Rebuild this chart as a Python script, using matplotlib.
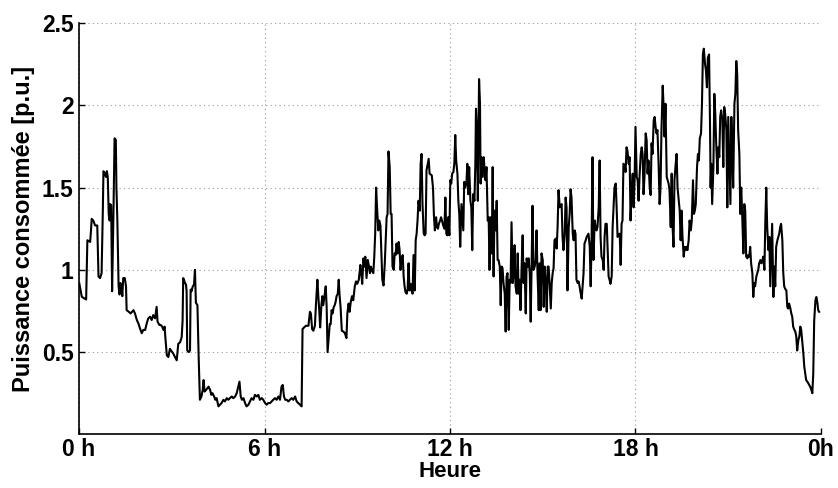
import numpy as np
import matplotlib
matplotlib.use("Agg")
from matplotlib import pyplot as plt

# puissance consommee relevee sur 24 h (heures, p.u.)
heures = [
    0.01, 0.09, 0.23, 0.27, 0.36, 0.38, 0.41, 0.46, 0.52, 0.59, 0.63, 0.68, 0.73, 0.77, 0.79, 0.84,
    0.87, 0.90, 0.93, 0.96, 0.99, 1.01, 1.04, 1.07, 1.11, 1.15, 1.19, 1.21, 1.24, 1.28, 1.31, 1.34,
    1.37, 1.40, 1.43, 1.48, 1.52, 1.54, 1.61, 1.67, 1.76, 1.81, 1.87, 1.92, 1.97, 2.03, 2.08, 2.14,
    2.19, 2.24, 2.30, 2.35, 2.40, 2.46, 2.51, 2.54, 2.60, 2.64, 2.69, 2.73, 2.77, 2.79, 2.84, 2.89,
    2.94, 3.05, 3.16, 3.21, 3.27, 3.32, 3.35, 3.37, 3.43, 3.46, 3.48, 3.50, 3.55, 3.59, 3.61, 3.64,
    3.68, 3.72, 3.75, 3.78, 3.83, 3.87, 3.91, 3.96, 4.00, 4.03, 4.06, 4.11, 4.15, 4.19, 4.24, 4.28,
    4.32, 4.37, 4.41, 4.45, 4.51, 4.56, 4.61, 4.67, 4.72, 4.78, 4.83, 4.88, 4.94, 4.99, 5.05, 5.10,
    5.15, 5.19, 5.23, 5.27, 5.32, 5.37, 5.42, 5.48, 5.53, 5.58, 5.64, 5.69, 5.75, 5.80, 5.85, 5.91,
    5.96, 6.02, 6.07, 6.12, 6.18, 6.23, 6.28, 6.34, 6.39, 6.45, 6.50, 6.55, 6.59, 6.63, 6.67, 6.72,
    6.77, 6.82, 6.88, 6.93, 6.99, 7.04, 7.09, 7.15, 7.20,
    7.23, 7.28, 7.34, 7.42, 7.47, 7.50, 7.54, 7.58, 7.63, 7.66, 7.71, 7.74, 7.77, 7.80, 7.84, 7.87,
    7.90, 7.94, 7.98, 8.01, 8.04, 8.07, 8.11, 8.14, 8.17, 8.20, 8.24, 8.27, 8.30, 8.33, 8.37, 8.40,
    8.43, 8.46, 8.50, 8.55, 8.60, 8.65, 8.68, 8.72, 8.75, 8.79, 8.83, 8.87, 8.92, 8.96, 9.00, 9.05,
    9.10, 9.13, 9.16, 9.20, 9.23, 9.26, 9.30, 9.34, 9.37, 9.41, 9.44, 9.49, 9.52, 9.55, 9.58, 9.61,
    9.64, 9.68, 9.71, 9.75, 9.78, 9.81, 9.85, 9.89, 9.92, 9.95, 9.98, 10.01, 10.05, 10.08, 10.11, 10.14,
    10.18, 10.21, 10.24, 10.27, 10.31, 10.34, 10.37, 10.40, 10.43, 10.47, 10.50, 10.53, 10.56, 10.60, 10.63, 10.66,
    10.69, 10.73, 10.76, 10.79, 10.82, 10.86, 10.89, 10.92, 10.95, 10.98, 11.02, 11.05, 11.08, 11.11, 11.15, 11.18,
    11.21, 11.24, 11.28, 11.31, 11.34,
    11.41, 11.45, 11.48, 11.51, 11.55, 11.58, 11.61, 11.64, 11.68, 11.71, 11.74, 11.78, 11.82, 11.85, 11.88, 11.91,
    11.94, 11.98, 12.01, 12.04, 12.07, 12.11, 12.14, 12.17, 12.20, 12.24, 12.27, 12.30, 12.33, 12.37, 12.40, 12.43,
    12.46, 12.49, 12.53, 12.56, 12.59, 12.62, 12.66, 12.69, 12.72, 12.75, 12.79, 12.82, 12.84, 12.87, 12.90, 12.94,
    12.97, 12.99, 13.02, 13.06, 13.09, 13.12, 13.15, 13.18, 13.22, 13.25, 13.28, 13.31, 13.35, 13.38, 13.41, 13.44,
    13.48, 13.51, 13.54, 13.57, 13.61, 13.64, 13.67, 13.70, 13.73, 13.77, 13.80, 13.83, 13.86, 13.90, 13.93, 13.96,
    13.99, 14.03, 14.06, 14.09, 14.12, 14.16, 14.19, 14.22, 14.25, 14.28, 14.32, 14.35, 14.38, 14.41, 14.45, 14.48,
    14.51, 14.54, 14.58, 14.61, 14.64, 14.67, 14.70, 14.74, 14.77, 14.80, 14.83, 14.87, 14.90, 14.93, 14.96, 15.00,
    15.03, 15.06, 15.09, 15.13, 15.16, 15.19, 15.22, 15.26, 15.29, 15.32, 15.35, 15.38, 15.42, 15.45, 15.48, 15.51,
    15.55,
    15.61, 15.64, 15.67, 15.71, 15.74, 15.77, 15.80, 15.84, 15.87, 15.90, 15.93, 15.97, 16.00, 16.03, 16.06, 16.09,
    16.13, 16.16, 16.19, 16.22, 16.26, 16.29, 16.32, 16.35, 16.39, 16.42, 16.45, 16.48, 16.52, 16.55, 16.58, 16.61,
    16.64, 16.68, 16.71, 16.74, 16.77, 16.81, 16.84, 16.87, 16.90, 16.94, 16.97, 17.00, 17.03, 17.07, 17.10, 17.13,
    17.16, 17.19, 17.23, 17.26, 17.29, 17.32, 17.36, 17.39, 17.42, 17.45, 17.49, 17.52, 17.55, 17.58, 17.61, 17.65,
    17.68, 17.71, 17.74, 17.78, 17.81, 17.84, 17.87, 17.91, 17.94, 17.97, 18.00, 18.04, 18.07, 18.10, 18.13, 18.17,
    18.20, 18.23, 18.26, 18.29, 18.33, 18.36, 18.39, 18.42, 18.46, 18.49, 18.52, 18.55, 18.59, 18.62, 18.65, 18.68,
    18.71, 18.75, 18.78, 18.81, 18.84, 18.88, 18.91, 18.94, 18.97, 19.01, 19.04, 19.07, 19.10, 19.14, 19.17, 19.20,
    19.23, 19.26, 19.30, 19.33, 19.36, 19.39, 19.43, 19.46, 19.49, 19.52, 19.56, 19.59, 19.62, 19.65, 19.68, 19.72,
    19.75,
    19.79, 19.82, 19.86, 19.89, 19.92, 19.95, 19.99, 20.02, 20.05, 20.08, 20.12, 20.15, 20.18, 20.21, 20.25, 20.28,
    20.31, 20.34, 20.38, 20.41, 20.43, 20.45, 20.48, 20.52, 20.55, 20.58, 20.61, 20.65, 20.68, 20.71, 20.74, 20.77,
    20.81, 20.84, 20.87, 20.90, 20.94, 20.97, 21.00, 21.03, 21.07, 21.10, 21.13, 21.16, 21.20, 21.23, 21.26, 21.29,
    21.32, 21.36, 21.39, 21.42, 21.45, 21.49, 21.52, 21.55, 21.58, 21.62, 21.65, 21.68, 21.71, 21.74, 21.78, 21.81,
    21.84, 21.87, 21.91, 21.94, 21.97, 22.00, 22.04, 22.07, 22.10, 22.13, 22.17, 22.20, 22.23, 22.26, 22.30, 22.33,
    22.36, 22.39, 22.42, 22.46, 22.49, 22.52, 22.55, 22.59, 22.62, 22.65, 22.68, 22.71, 22.75, 22.78, 22.81, 22.84,
    22.88, 22.91, 22.94, 22.97, 23.01, 23.04, 23.07, 23.10, 23.14, 23.17, 23.20, 23.23, 23.27, 23.30, 23.33, 23.36,
    23.39, 23.43, 23.46, 23.49, 23.52, 23.56, 23.59, 23.62, 23.65, 23.69, 23.72, 23.75, 23.78, 23.82, 23.85, 23.88,
    23.91, 23.94,
]

puissance = [
    0.917, 0.836, 0.82, 1.18, 1.17, 1.22, 1.31, 1.30, 1.27, 1.27, 0.96, 0.95, 0.98, 1.36, 1.60, 1.585,
    1.565, 1.60, 1.565, 1.34, 1.30, 1.40, 1.39, 0.87, 1.30, 1.80, 1.79, 1.50, 1.30, 0.90, 0.85, 0.92,
    0.90, 0.84, 0.95, 0.95, 0.90, 0.755, 0.745, 0.735, 0.755, 0.735, 0.695, 0.675, 0.645, 0.615, 0.635, 0.635,
    0.675, 0.705, 0.715, 0.695, 0.725, 0.705, 0.775, 0.685, 0.665, 0.665, 0.655, 0.635, 0.655, 0.595, 0.48, 0.47,
    0.52, 0.49, 0.45, 0.55, 0.56, 0.59, 0.69, 0.95, 0.92, 0.91, 0.87, 0.51, 0.50, 0.51, 0.88, 0.87,
    0.90, 0.91, 1.00, 0.80, 0.785, 0.47, 0.21, 0.23, 0.27, 0.33, 0.26, 0.27, 0.28, 0.29, 0.27, 0.24,
    0.25, 0.23, 0.21, 0.22, 0.17, 0.18, 0.19, 0.21, 0.20, 0.22, 0.21, 0.22, 0.23, 0.22, 0.23, 0.25,
    0.29, 0.32, 0.23, 0.21, 0.22, 0.19, 0.17, 0.18, 0.20, 0.22, 0.21, 0.24, 0.23, 0.24, 0.21, 0.22,
    0.21, 0.19, 0.18, 0.19, 0.19, 0.20, 0.21, 0.22, 0.21, 0.23, 0.21, 0.29, 0.30, 0.23, 0.21, 0.21,
    0.20, 0.21, 0.22, 0.21, 0.23, 0.20, 0.19, 0.18, 0.17,
    0.64, 0.65, 0.66, 0.66, 0.745, 0.735, 0.64, 0.63, 0.66, 0.775, 0.94, 0.84, 0.755, 0.65, 0.785, 0.84,
    0.785, 0.84, 0.90, 0.775, 0.50, 0.57, 0.67, 0.67, 0.755, 0.735, 0.775, 0.785, 0.805, 0.84, 0.855, 0.94,
    0.84, 0.775, 0.63, 0.625, 0.615, 0.585, 0.735, 0.795, 0.745, 0.805, 0.84, 0.815, 0.90, 0.93, 0.915, 0.94,
    1.03, 0.98, 0.915, 1.07, 1.02, 1.08, 0.95, 1.06, 1.03, 0.98, 1.02, 0.99, 0.98, 1.08, 1.22, 1.50,
    1.38, 1.24, 1.30, 1.27, 1.10, 0.94, 0.905, 1.04, 1.18, 1.32, 1.34, 1.72, 1.625, 1.34, 1.34, 1.02,
    1.00, 1.10, 1.09, 1.16, 1.10, 1.17, 1.12, 1.00, 1.06, 1.09, 0.96, 0.90, 0.865, 0.855, 0.885, 1.04,
    0.875, 0.915, 0.875, 0.855, 1.09, 0.875, 1.18, 1.22, 1.30, 1.42, 1.36, 1.645, 1.705, 1.40, 1.22, 1.21,
    1.22, 1.605, 1.645, 1.675, 1.585,
    1.575, 1.50, 1.33, 1.24, 1.32, 1.26, 1.25, 1.28, 1.30, 1.32, 1.30, 1.27, 1.25, 1.44, 1.22, 1.21,
    1.32, 1.21, 1.545, 1.525, 1.585, 1.595, 1.645, 1.82, 1.665, 1.585, 1.42, 1.34, 1.14, 1.40, 1.32, 1.24,
    1.535, 1.50, 1.525, 1.645, 1.46, 1.625, 1.42, 1.38, 1.12, 1.46, 1.42, 1.645, 1.98, 1.85, 1.42, 2.16,
    2.01, 1.525, 1.685, 1.565, 1.685, 1.605, 1.545, 1.625, 1.30, 1.32, 1.00, 1.32, 1.10, 1.625, 0.96, 1.36,
    1.24, 1.42, 1.06, 1.06, 1.02, 0.785, 1.02, 1.01, 0.92, 0.855, 0.625, 0.96, 0.98, 0.635, 0.94, 0.92,
    1.29, 0.92, 0.98, 1.15, 0.90, 0.855, 1.10, 0.855, 0.94, 0.755, 1.04, 1.21, 0.92, 1.04, 0.735, 1.07,
    1.02, 1.07, 0.98, 0.685, 1.04, 1.39, 1.00, 1.02, 1.06, 1.24, 0.98, 0.755, 1.04, 0.755, 1.10, 1.06,
    0.775, 1.02, 0.94, 0.745, 1.02, 1.02, 0.92, 0.765, 0.92, 0.98, 1.01, 1.18, 1.19, 1.13, 1.26, 1.485,
    1.38,
    1.40, 1.20, 1.12, 1.22, 1.44, 1.38, 0.875, 1.26, 1.34, 1.49, 1.44, 1.22, 1.18, 1.24, 1.22, 0.94,
    0.92, 0.93, 0.90, 0.865, 0.825, 0.90, 0.98, 1.16, 1.18, 1.20, 1.21, 1.22, 1.14, 0.90, 1.18, 1.685,
    1.06, 1.30, 1.26, 1.24, 1.26, 1.38, 1.665, 1.20, 1.08, 1.06, 1.00, 1.20, 1.28, 1.28, 1.12, 0.96,
    0.94, 0.915, 0.96, 1.26, 1.38, 1.50, 1.525, 1.38, 1.20, 1.21, 1.22, 1.03, 1.28, 1.30, 1.645, 1.635,
    1.595, 1.745, 1.725, 1.645, 1.685, 1.30, 1.46, 1.585, 1.38, 1.545, 1.87, 1.565, 1.545, 1.42, 1.565, 1.705,
    1.745, 1.705, 1.46, 1.565, 1.83, 1.79, 1.585, 1.665, 1.50, 1.455, 1.77, 1.705, 1.91, 1.93, 1.87, 1.83,
    1.85, 1.625, 1.40, 1.50, 1.85, 2.12, 1.99, 1.81, 2.01, 1.565, 1.545, 1.525, 1.485, 1.26, 1.585, 1.26,
    1.14, 1.545, 1.645, 1.705, 1.50, 1.44, 1.36, 1.18, 1.36, 1.20, 1.08, 1.14, 1.12, 1.14, 1.12, 1.18,
    1.30,
    1.24, 1.30, 1.545, 1.34, 1.36, 1.40, 1.625, 1.705, 1.665, 1.80, 1.83, 2.01, 2.31, 2.345, 2.25, 2.21,
    2.11, 2.29, 2.31, 1.89, 1.50, 1.645, 1.40, 1.625, 2.07, 1.95, 1.77, 1.585, 1.745, 1.685, 1.93, 1.97,
    1.91, 1.625, 1.99, 1.95, 1.85, 1.38, 1.93, 1.705, 1.40, 1.93, 1.745, 1.50, 2.01, 2.07, 2.27, 2.19,
    1.85, 1.705, 1.34, 1.50, 1.34, 1.10, 1.40, 1.36, 1.08, 1.07, 1.09, 1.08, 1.14, 1.04, 0.98, 0.835,
    0.92, 0.90, 0.96, 0.98, 1.00, 1.04, 1.06, 1.04, 1.05, 1.08, 1.00, 1.30, 1.50, 1.26, 1.12, 1.20,
    0.90, 1.10, 1.28, 0.835, 1.02, 0.90, 1.14, 1.18, 1.20, 1.22, 1.26, 1.28, 1.18, 0.98, 0.90, 0.885,
    0.875, 0.775, 0.765, 0.795, 0.765, 0.735, 0.715, 0.655, 0.635, 0.625, 0.595, 0.51, 0.575, 0.595, 0.655, 0.635,
    0.575, 0.49, 0.41, 0.37, 0.33, 0.32, 0.31, 0.30, 0.29, 0.27, 0.25, 0.37, 0.69, 0.815, 0.835, 0.805,
    0.755, 0.745,
]

tick_pos = [0, 6, 12, 18, 24]
tick_labels = ['0 h', '6 h', '12 h', '18 h', '0h']
y_ticks = [0.5, 1, 1.5, 2, 2.5]
y_labels = ['0.5', '1', '1.5', '2', '2.5']

plt.rcParams['font.family'] = ['Liberation Sans', 'DejaVu Sans']
plt.rcParams['font.weight'] = 'bold'

fig = plt.figure(figsize=(8.38, 4.88), dpi=100)
ax = fig.add_axes([0.0943, 0.110, 0.8854, 0.8425])

ax.plot(heures, puissance, color='black', linewidth=1.5)

ax.set_xlim(0, 24)
ax.set_ylim(0, 2.5)
ax.set_xticks(tick_pos)
ax.set_xticklabels(tick_labels)
ax.set_yticks(y_ticks)
ax.set_yticklabels(y_labels)
ax.tick_params(direction='in', length=4, labelsize=16.5, width=1)
ax.tick_params(axis='y', pad=4)
ax.tick_params(axis='x', pad=3)
ax.grid(True, linestyle=(0, (1, 3)), color='#999999', linewidth=0.8)
ax.spines['top'].set_visible(False)
ax.spines['right'].set_visible(False)
ax.spines['left'].set_linewidth(1.2)
ax.spines['bottom'].set_linewidth(1.2)

ax.set_xlabel('Heure', fontsize=16, fontweight='bold', labelpad=0)
ax.set_ylabel('Puissance consommée [p.u.]', fontsize=17, fontweight='bold', labelpad=5)

fig.savefig('out.png', dpi=100)
